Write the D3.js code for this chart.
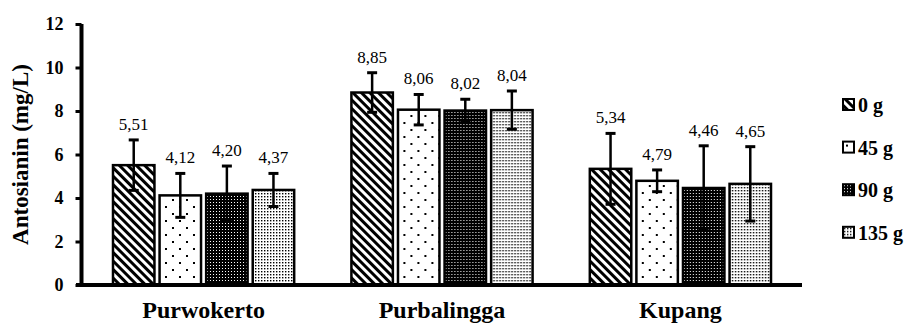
<!DOCTYPE html>
<html>
<head>
<meta charset="utf-8">
<script src="https://cdn.jsdelivr.net/npm/d3@7"></script>
<style>
  body { margin: 0; background: #fff; }
  svg { display: block; }
  svg text { font-family: "Liberation Serif", "Times New Roman", serif; }
</style>
</head>
<body>
<svg id="chart" width="915" height="323"></svg>
<script>
// data
const categories = ["Purwokerto", "Purbalingga", "Kupang"];
const seriesNames = ["0 g", "45 g", "90 g", "135 g"];
const values = [
  [5.51, 4.12, 4.20, 4.37],
  [8.85, 8.06, 8.02, 8.04],
  [5.34, 4.79, 4.46, 4.65]
];
const errors = [
  [1.16, 1.01, 1.27, 0.76],
  [0.91, 0.70, 0.52, 0.88],
  [1.63, 0.50, 1.94, 1.71]
];
const yTicks = [0, 2, 4, 6, 8, 10, 12];

const SERIF = "Liberation Serif";
const svg = d3.select("#chart");

// fill patterns, one per series
const defs = svg.append("defs");

const p0 = defs.append("pattern").attr("id", "pat0")
  .attr("patternUnits", "userSpaceOnUse")
  .attr("width", 6).attr("height", 6)
  .attr("patternTransform", "rotate(-45)");
p0.append("rect").attr("width", 6).attr("height", 6).attr("fill", "#fff");
p0.append("rect").attr("width", 3).attr("height", 6).attr("fill", "#000");

const p1 = defs.append("pattern").attr("id", "pat1")
  .attr("patternUnits", "userSpaceOnUse")
  .attr("width", 14).attr("height", 14);
p1.append("rect").attr("width", 14).attr("height", 14).attr("fill", "#fff");
p1.append("rect").attr("x", 3).attr("y", 3).attr("width", 2).attr("height", 2).attr("fill", "#000");
p1.append("rect").attr("x", 10).attr("y", 10).attr("width", 2).attr("height", 2).attr("fill", "#000");

const p2 = defs.append("pattern").attr("id", "pat2")
  .attr("patternUnits", "userSpaceOnUse")
  .attr("width", 3).attr("height", 3);
p2.append("rect").attr("width", 3).attr("height", 3).attr("fill", "#000");
p2.append("rect").attr("x", 1).attr("y", 1).attr("width", 1).attr("height", 1).attr("fill", "#fff");

const p3 = defs.append("pattern").attr("id", "pat3")
  .attr("patternUnits", "userSpaceOnUse")
  .attr("width", 3).attr("height", 3);
p3.append("rect").attr("width", 3).attr("height", 3).attr("fill", "#fff");
p3.append("rect").attr("x", 1).attr("y", 1).attr("width", 1.4).attr("height", 1.4).attr("fill", "#000");

// scales
const x0 = d3.scaleBand()
  .domain(categories)
  .range([82, 802])
  .paddingInner(0.24)
  .paddingOuter(0.13);

const x1 = d3.scaleBand()
  .domain(seriesNames)
  .range([0, x0.bandwidth()])
  .paddingInner(0.11)
  .paddingOuter(0);

const y = d3.scaleLinear()
  .domain([0, 12])
  .range([285, 24]);

const fmt = v => v.toFixed(2).replace(".", ",");

// bars
const groups = svg.append("g").selectAll("g")
  .data(categories)
  .join("g")
  .attr("transform", d => `translate(${x0(d)},0)`);

const cells = groups.selectAll("g")
  .data((c, ci) => seriesNames.map((s, si) => ({ s, si, v: values[ci][si], e: errors[ci][si] })))
  .join("g");

cells.append("rect")
  .attr("x", d => x1(d.s))
  .attr("y", d => y(d.v))
  .attr("width", x1.bandwidth())
  .attr("height", d => y(0) - y(d.v))
  .attr("fill", d => `url(#pat${d.si})`)
  .attr("stroke", "#000")
  .attr("stroke-width", 2.5);

// error bars
const cx = d => x1(d.s) + x1.bandwidth() / 2;
cells.append("line")
  .attr("x1", cx).attr("x2", cx)
  .attr("y1", d => y(d.v + d.e))
  .attr("y2", d => y(d.v - d.e))
  .attr("stroke", "#000").attr("stroke-width", 2.5);
cells.append("line")
  .attr("x1", d => cx(d) - 5).attr("x2", d => cx(d) + 5)
  .attr("y1", d => y(d.v + d.e)).attr("y2", d => y(d.v + d.e))
  .attr("stroke", "#000").attr("stroke-width", 3);
cells.append("line")
  .attr("x1", d => cx(d) - 5).attr("x2", d => cx(d) + 5)
  .attr("y1", d => y(d.v - d.e)).attr("y2", d => y(d.v - d.e))
  .attr("stroke", "#000").attr("stroke-width", 3);

// value labels
cells.append("text")
  .attr("x", cx)
  .attr("y", d => y(d.v + d.e) - 10)
  .attr("text-anchor", "middle")
  .attr("font-family", SERIF)
  .attr("font-size", 17)
  .attr("fill", "#000")
  .text(d => fmt(d.v));

// y axis
const yAxis = svg.append("g")
  .attr("transform", "translate(81.5,0)")
  .call(d3.axisLeft(y).tickValues(yTicks).tickSize(6).tickPadding(12).tickFormat(d3.format("d")));
yAxis.attr("font-family", SERIF);
yAxis.select(".domain").attr("d", `M0,${y(12)}V${y(0) + 2}`).attr("stroke-width", 4);
yAxis.selectAll(".tick line").attr("stroke-width", 3);
yAxis.selectAll(".tick text")
  .attr("font-size", 18)
  .attr("font-weight", "bold")
  .attr("fill", "#000");

// x axis
const xAxis = svg.append("g")
  .attr("transform", `translate(0,${y(0)})`)
  .call(d3.axisBottom(x0).tickSize(0).tickPadding(0));
xAxis.attr("font-family", SERIF);
xAxis.select(".domain").attr("d", "M76,0H802").attr("stroke-width", 4);
xAxis.selectAll(".tick text")
  .attr("dy", null)
  .attr("y", 33)
  .attr("font-size", 24)
  .attr("font-weight", "bold")
  .attr("fill", "#000");

// y title
svg.append("text")
  .attr("transform", `translate(28,${(y(0) + y(12)) / 2}) rotate(-90)`)
  .attr("text-anchor", "middle")
  .attr("font-family", SERIF)
  .attr("font-size", 23)
  .attr("font-weight", "bold")
  .text("Antosianin (mg/L)");

// legend
const legend = svg.append("g").selectAll("g")
  .data(seriesNames)
  .join("g")
  .attr("transform", (d, i) => `translate(843,${99 + i * 42.6})`);
legend.append("rect")
  .attr("width", 11).attr("height", 11)
  .attr("fill", (d, i) => `url(#pat${i})`)
  .attr("stroke", "#000").attr("stroke-width", 2);
legend.append("text")
  .attr("x", 15)
  .attr("y", 13)
  .attr("font-family", SERIF)
  .attr("font-size", 20)
  .attr("font-weight", "bold")
  .text(d => d);
</script>
</body>
</html>
